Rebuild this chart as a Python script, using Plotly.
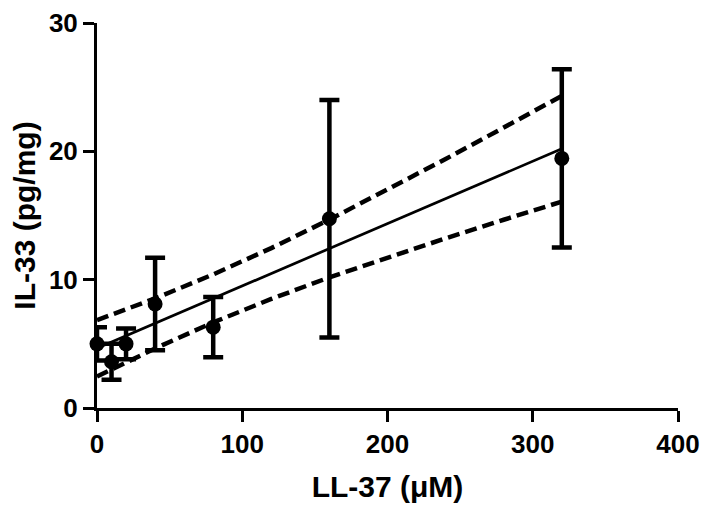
import plotly.graph_objects as go

# LL-37 dose (uM) and IL-33 response
dose = [0, 10, 20, 40, 80, 160, 320]
il33 = [5.0, 3.6, 5.0, 8.1, 6.3, 14.75, 19.45]
il33_err = [1.3, 1.4, 1.2, 3.6, 2.35, 9.25, 6.95]

# linear fit and 95% confidence band
fit_x = [0, 40, 80, 120, 160, 200, 240, 280, 320]
fit_y = [4.65, 6.59, 8.54, 10.48, 12.43, 14.37, 16.31, 18.26, 20.2]
ci_upper = [6.85, 8.54, 10.41, 12.46, 14.68, 17.0, 19.4, 21.85, 24.32]
ci_lower = [2.45, 4.64, 6.67, 8.50, 10.18, 11.74, 13.22, 14.67, 16.08]

xticks = [0, 100, 200, 300, 400]
yticks = [0, 10, 20, 30]

font = "Liberation Sans, Arial, sans-serif"

fig = go.Figure()

for band in (ci_upper, ci_lower):
    fig.add_trace(go.Scatter(
        x=fit_x, y=band, mode="lines",
        line=dict(color="black", width=4.5, dash="12px,6px"),
        cliponaxis=False,
    ))
fig.add_trace(go.Scatter(
    x=fit_x, y=fit_y, mode="lines",
    line=dict(color="black", width=2.7),
    cliponaxis=False,
))
fig.add_trace(go.Scatter(
    x=dose, y=il33, mode="markers",
    marker=dict(color="black", size=15),
    error_y=dict(type="data", array=il33_err, visible=True,
                 color="black", thickness=4.5, width=10),
    cliponaxis=False,
))

axis_style = dict(
    showgrid=False, zeroline=False,
    showline=True, linecolor="black", linewidth=3,
    ticks="outside", ticklen=11, tickwidth=3, tickcolor="black",
    tickfont=dict(family=font, size=26, color="black", weight="bold"),
    ticklabeloverflow="allow", automargin=False,
)

fig.update_xaxes(
    range=[0, 400], tickvals=xticks,
    title=dict(text="LL-37 (μM)", standoff=18,
               font=dict(family=font, size=30, color="black", weight="bold")),
    **axis_style,
)
fig.update_yaxes(
    range=[0, 30], tickvals=yticks,
    title=dict(text="IL-33 (pg/mg)", standoff=16,
               font=dict(family=font, size=30, color="black", weight="bold")),
    **axis_style,
)

# page has an 8px body margin, so the figure is sized to fill the rest
fig.update_layout(
    width=702, height=508,
    margin=dict(l=89, r=32, t=15, b=108),
    plot_bgcolor="white", paper_bgcolor="white",
    showlegend=False,
)

fig.write_html("out.html")
